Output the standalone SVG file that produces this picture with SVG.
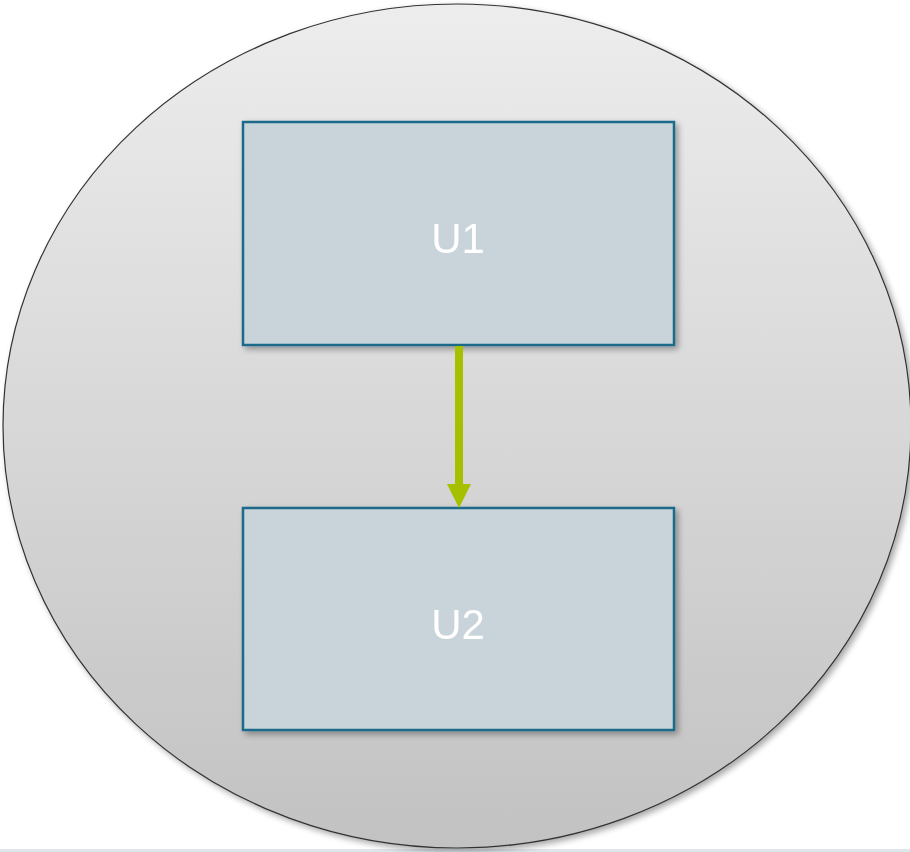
<svg xmlns="http://www.w3.org/2000/svg" width="910" height="852" viewBox="0 0 910 852">
<defs>
<linearGradient id="bg" x1="0" y1="0" x2="0" y2="1">
<stop offset="0" stop-color="#ededed"/>
<stop offset="1" stop-color="#c2c2c2"/>
</linearGradient>
<filter id="sh" x="-10%" y="-10%" width="130%" height="130%">
<feGaussianBlur in="SourceAlpha" stdDeviation="3"/>
<feOffset dx="3" dy="3"/>
<feComponentTransfer><feFuncA type="linear" slope="0.35"/></feComponentTransfer>
<feMerge><feMergeNode/><feMergeNode in="SourceGraphic"/></feMerge>
</filter>
<marker id="ah" markerWidth="24" markerHeight="24" refX="0" refY="12" orient="auto" markerUnits="userSpaceOnUse">
<path d="M0,0 L24,12 L0,24 Z" fill="#a6c000"/>
</marker>
<style>
.box{fill:#c9d4da;stroke:#1c6a8a;stroke-width:2.5}
.lbl{font-family:"Liberation Sans",Arial,sans-serif;font-size:42px;fill:#ffffff;text-anchor:middle}
.conn{stroke:#a6c000;stroke-width:8;fill:none}
</style>
</defs>
<rect x="0" y="0" width="910" height="852" fill="#ffffff"/>
<rect x="0" y="849" width="910" height="3" fill="#dde7eb"/>
<g id="container" filter="url(#sh)">
<ellipse cx="457" cy="426" rx="454" ry="422" fill="url(#bg)" stroke="#333333" stroke-width="1.2"/>
</g>
<g id="U1" filter="url(#sh)">
<rect class="box" x="243" y="122" width="431" height="223"/>
<text class="lbl" x="458" y="253">U1</text>
</g>
<g id="U2" filter="url(#sh)">
<rect class="box" x="243" y="508" width="431" height="222"/>
<text class="lbl" x="458" y="639">U2</text>
</g>
<g id="connectors">
<line class="conn" x1="459" y1="346" x2="459" y2="484" marker-end="url(#ah)"/>
</g>
</svg>
